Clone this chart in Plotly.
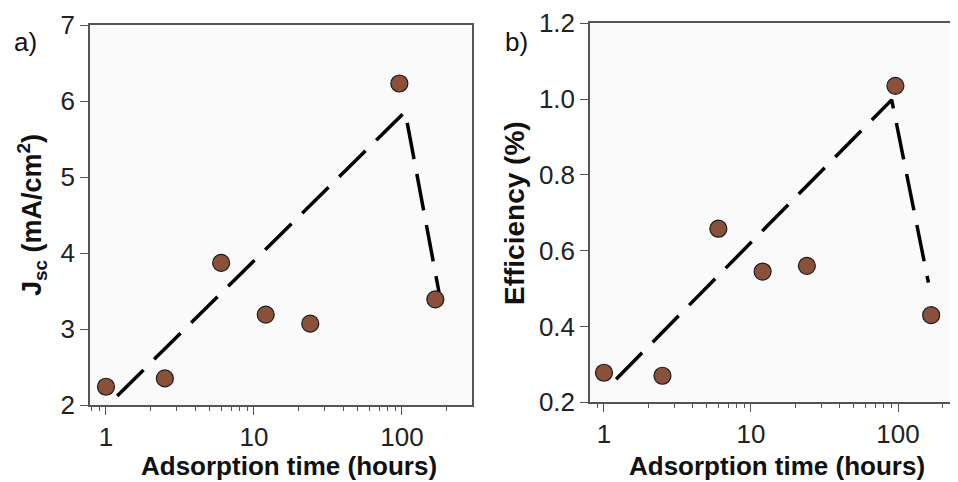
import numpy as np
import plotly.graph_objects as go

# tempo de adsorcao (horas)
tempo = [1, 2.5, 6, 12, 24, 96, 168]
jsc = [2.24, 2.35, 3.87, 3.19, 3.07, 6.23, 3.39]
eficiencia = [0.278, 0.270, 0.658, 0.545, 0.560, 1.035, 0.430]

# linha tracejada (tendencia)
tend_x_a = [1.19, 105, 178]
tend_y_a = [2.12, 5.86, 3.48]
tend_x_b = [1.21, 90.6, 161]
tend_y_b = [0.261, 0.998, 0.516]

# a pagina tem margem de 8px no body
W, H = 950, 474
cor_ponto = "#8a5039"
fonte = "Liberation Sans, Arial, sans-serif"

fig = go.Figure()

for tx, ty, y, xa, ya in [(tend_x_a, tend_y_a, jsc, "x", "y"),
                          (tend_x_b, tend_y_b, eficiencia, "x2", "y2")]:
    fig.add_trace(go.Scatter(x=tx, y=ty, mode="lines", xaxis=xa, yaxis=ya,
                             line=dict(color="black", width=3.5, dash="37px,15px"),
                             showlegend=False, hoverinfo="skip"))
    fig.add_trace(go.Scatter(x=tempo, y=y, mode="markers", xaxis=xa, yaxis=ya,
                             marker=dict(size=17, color=cor_ponto,
                                         line=dict(color="#1a1a1a", width=1.2)),
                             showlegend=False))

eixo_x = dict(type="log", showgrid=False, zeroline=False, showline=True,
              linecolor="#555", linewidth=1.5, mirror=True, automargin=False,
              ticks="outside", ticklen=8, tickcolor="#555",
              tickvals=[1, 10, 100], ticktext=["1", "10", "100"],
              tickfont=dict(size=26, color="#222", family=fonte),
              minor=dict(ticks="outside", ticklen=4, tickcolor="#555",
                         tickvals=[0.8, 0.9, 2, 3, 4, 5, 6, 7, 8, 9,
                                   20, 30, 40, 50, 60, 70, 80, 90, 200, 300]))
eixo_y = dict(showgrid=False, zeroline=False, showline=True, automargin=False,
              linecolor="#555", linewidth=1.5,
              ticks="outside", ticklen=8, tickcolor="#555",
              tickfont=dict(size=26, color="#222", family=fonte))

fig.update_layout(
    width=W, height=H,
    margin=dict(l=0, r=0, t=0, b=0, pad=0),
    paper_bgcolor="white", plot_bgcolor="#fafafa",
    xaxis=dict(eixo_x, domain=[82 / W, 464 / W], range=[-0.108, 2.473],
               anchor="y"),
    yaxis=dict(eixo_y, domain=[(H - 397) / H, (H - 17) / H], range=[2, 7],
               dtick=1, mirror=True, anchor="x"),
    xaxis2=dict(eixo_x, domain=[582 / W, 1.0], range=[-0.095, 2.408],
                anchor="y2"),
    yaxis2=dict(eixo_y, domain=[(H - 394.3) / H, (H - 15.3) / H],
                range=[0.2, 1.2], dtick=0.2, tickformat=".1f", anchor="x2"),
)

titulos = [
    (281, 458, 0, 26, "<b>Adsorption time (hours)</b>"),
    (769, 458, 0, 26, "<b>Adsorption time (hours)</b>"),
    (24, 207, -90, 27, "<b>J<sub>sc</sub> (mA/cm<sup>2</sup>)</b>"),
    (507, 205, -90, 28, "<b>Efficiency (%)</b>"),
]
for x, y, ang, tam, txt in titulos:
    fig.add_annotation(x=x / W, y=1 - y / H, xref="paper", yref="paper",
                       text=txt, showarrow=False, textangle=ang,
                       xanchor="center", yanchor="middle",
                       font=dict(size=tam, color="#111", family=fonte))

for x, txt in [(17, "a)"), (509, "b)")]:
    fig.add_annotation(x=x / W, y=1 - 34 / H, xref="paper", yref="paper",
                       text=txt, showarrow=False, xanchor="center",
                       yanchor="middle",
                       font=dict(size=26, color="#111", family=fonte))

fig.write_html("out.html")
